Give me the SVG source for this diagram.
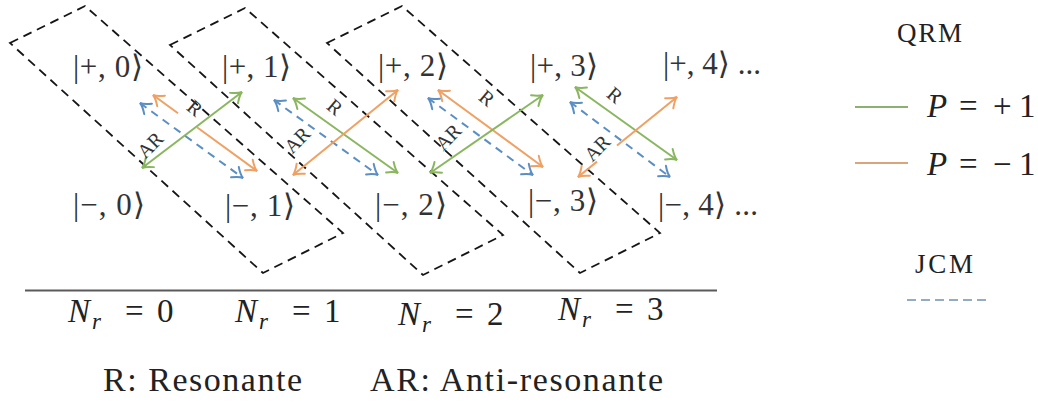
<svg xmlns="http://www.w3.org/2000/svg" width="1038" height="403" viewBox="0 0 1038 403">
<style>
.box{fill:none;stroke:#151515;stroke-width:1.8;stroke-dasharray:9 6}
.ket{font-family:"Liberation Serif","DejaVu Serif","DejaVu Sans",serif;font-size:31px;fill:#333}
.lab{font-family:"Liberation Serif","DejaVu Serif",serif;font-size:20px;fill:#333;text-anchor:middle;dominant-baseline:central}
.math{font-family:"Liberation Serif","DejaVu Serif",serif;font-size:33px;fill:#222}
.txt{font-family:"Liberation Serif","DejaVu Serif",serif;fill:#222}
.g{stroke:#8ab660;stroke-width:2;fill:none}
.o{stroke:#f0a062;stroke-width:2;fill:none}
.b{stroke:#5a8ec4;stroke-width:2;fill:none;stroke-dasharray:8 6}
.it{font-style:italic}
.sub{font-style:italic;font-size:23px}
</style>
<defs>
<marker id="ag" markerUnits="userSpaceOnUse" markerWidth="16" markerHeight="16" viewBox="-12 -8 16 16" refX="0" refY="0" orient="auto-start-reverse"><path d="M-10,-6.5 Q-4,-1 0,0 Q-4,1 -10,6.5" fill="none" stroke="#8ab660" stroke-width="2" stroke-linecap="round"/></marker>
<marker id="ao" markerUnits="userSpaceOnUse" markerWidth="16" markerHeight="16" viewBox="-12 -8 16 16" refX="0" refY="0" orient="auto-start-reverse"><path d="M-10,-6.5 Q-4,-1 0,0 Q-4,1 -10,6.5" fill="none" stroke="#f0a062" stroke-width="2" stroke-linecap="round"/></marker>
<marker id="ab" markerUnits="userSpaceOnUse" markerWidth="16" markerHeight="16" viewBox="-12 -8 16 16" refX="0" refY="0" orient="auto-start-reverse"><path d="M-10,-6.5 Q-4,-1 0,0 Q-4,1 -10,6.5" fill="none" stroke="#5a8ec4" stroke-width="2" stroke-linecap="round"/></marker>
</defs>
<rect width="1038" height="403" fill="#fff"/>

<g id="boxes">
<polygon id="box0" class="box" points="10,43 85,6 343,233 263,273"/>
<polygon id="box1" class="box" points="170,45 245,8 503,235 423,275"/>
<polygon id="box2" class="box" points="327,43 402,6 660,233 580,273"/>
</g>

<g id="connectors">
<line class="g" x1="142" y1="168" x2="242" y2="92" marker-start="url(#ag)" marker-end="url(#ag)"/>
<line class="b" x1="140" y1="103" x2="243" y2="178" marker-start="url(#ab)" marker-end="url(#ab)"/>
<line class="o" x1="153" y1="95" x2="178" y2="113.3" marker-start="url(#ao)"/>
<line class="o" x1="197" y1="127.2" x2="257" y2="171" marker-end="url(#ao)"/>

<line class="g" x1="293" y1="98" x2="398" y2="173" marker-start="url(#ag)" marker-end="url(#ag)"/>
<line class="b" x1="274" y1="100" x2="378" y2="175" marker-start="url(#ab)" marker-end="url(#ab)"/>
<line class="o" x1="293" y1="175" x2="398" y2="90" marker-start="url(#ao)" marker-end="url(#ao)"/>

<line class="o" x1="438" y1="90" x2="543" y2="167" marker-start="url(#ao)" marker-end="url(#ao)"/>
<line class="b" x1="428" y1="98" x2="533" y2="175" marker-start="url(#ab)" marker-end="url(#ab)"/>
<line class="g" x1="430" y1="173" x2="543" y2="95" marker-start="url(#ag)" marker-end="url(#ag)"/>

<line class="g" x1="575" y1="87" x2="677" y2="160" marker-start="url(#ag)" marker-end="url(#ag)"/>
<line class="b" x1="570" y1="102" x2="670" y2="177" marker-start="url(#ab)" marker-end="url(#ab)"/>
<line class="o" x1="578" y1="177" x2="597" y2="161.6" marker-start="url(#ao)"/>
<line class="o" x1="617" y1="145.5" x2="677" y2="97" marker-end="url(#ao)"/>

<text class="lab" transform="translate(195,108) rotate(40)">R</text>
<text class="lab" transform="translate(150,145) rotate(-45)">AR</text>
<text class="lab" transform="translate(335,107) rotate(40)">R</text>
<text class="lab" transform="translate(297,140) rotate(-45)">AR</text>
<text class="lab" transform="translate(487,98) rotate(40)">R</text>
<text class="lab" transform="translate(448,137) rotate(-45)">AR</text>
<text class="lab" transform="translate(615,95) rotate(40)">R</text>
<text class="lab" transform="translate(597,148) rotate(-45)">AR</text>
</g>

<g id="p0"><text class="ket" x="73" y="77" textLength="70" lengthAdjust="spacing">|+, 0⟩</text></g>
<g id="p1"><text class="ket" x="222" y="77" textLength="69" lengthAdjust="spacing">|+, 1⟩</text></g>
<g id="p2"><text class="ket" x="378" y="76" textLength="70" lengthAdjust="spacing">|+, 2⟩</text></g>
<g id="p3"><text class="ket" x="530" y="76" textLength="68" lengthAdjust="spacing">|+, 3⟩</text></g>
<g id="p4"><text class="ket" x="663" y="74" textLength="98" lengthAdjust="spacing">|+, 4⟩ ...</text></g>
<g id="m0"><text class="ket" x="73" y="215" textLength="72" lengthAdjust="spacing">|−, 0⟩</text></g>
<g id="m1"><text class="ket" x="225" y="216" textLength="70" lengthAdjust="spacing">|−, 1⟩</text></g>
<g id="m2"><text class="ket" x="375" y="215" textLength="72" lengthAdjust="spacing">|−, 2⟩</text></g>
<g id="m3"><text class="ket" x="528" y="211" textLength="70" lengthAdjust="spacing">|−, 3⟩</text></g>
<g id="m4"><text class="ket" x="658" y="215" textLength="100" lengthAdjust="spacing">|−, 4⟩ ...</text></g>

<g id="axis">
<line x1="25" y1="290.5" x2="717" y2="290.5" stroke="#5a5a5a" stroke-width="2"/>
<text class="math" y="322"><tspan class="it" x="68">N</tspan><tspan class="sub" x="92" dy="7">r</tspan><tspan x="125" dy="-7">=</tspan><tspan x="157">0</tspan></text>
<text class="math" y="322"><tspan class="it" x="235">N</tspan><tspan class="sub" x="259" dy="7">r</tspan><tspan x="292" dy="-7">=</tspan><tspan x="324">1</tspan></text>
<text class="math" y="325"><tspan class="it" x="398">N</tspan><tspan class="sub" x="422" dy="7">r</tspan><tspan x="455" dy="-7">=</tspan><tspan x="487">2</tspan></text>
<text class="math" y="320"><tspan class="it" x="558">N</tspan><tspan class="sub" x="582" dy="7">r</tspan><tspan x="615" dy="-7">=</tspan><tspan x="647">3</tspan></text>
</g>

<g id="legend">
<text class="txt" x="897" y="42" font-size="27" textLength="65" lengthAdjust="spacing">QRM</text>
<line x1="855" y1="107" x2="908" y2="107" stroke="#8cb070" stroke-width="2"/>
<text class="math" y="117" font-size="31"><tspan class="it" x="927">P</tspan><tspan x="959">=</tspan><tspan x="993">+</tspan><tspan x="1019">1</tspan></text>
<line x1="855" y1="163" x2="908" y2="163" stroke="#dca47a" stroke-width="2"/>
<text class="math" y="175" font-size="31"><tspan class="it" x="927">P</tspan><tspan x="959">=</tspan><tspan x="993">−</tspan><tspan x="1019">1</tspan></text>
<text class="txt" x="915" y="273" font-size="27" textLength="58" lengthAdjust="spacing">JCM</text>
<line x1="907" y1="300" x2="987" y2="300" stroke="#7390aa" stroke-width="1.6" stroke-dasharray="9 5"/>
</g>

<g id="notes">
<text class="txt" x="103" y="391" font-size="34" textLength="199" lengthAdjust="spacing">R: Resonante</text>
<text class="txt" x="370" y="391" font-size="34" textLength="293" lengthAdjust="spacing">AR: Anti-resonante</text>
</g>
</svg>
